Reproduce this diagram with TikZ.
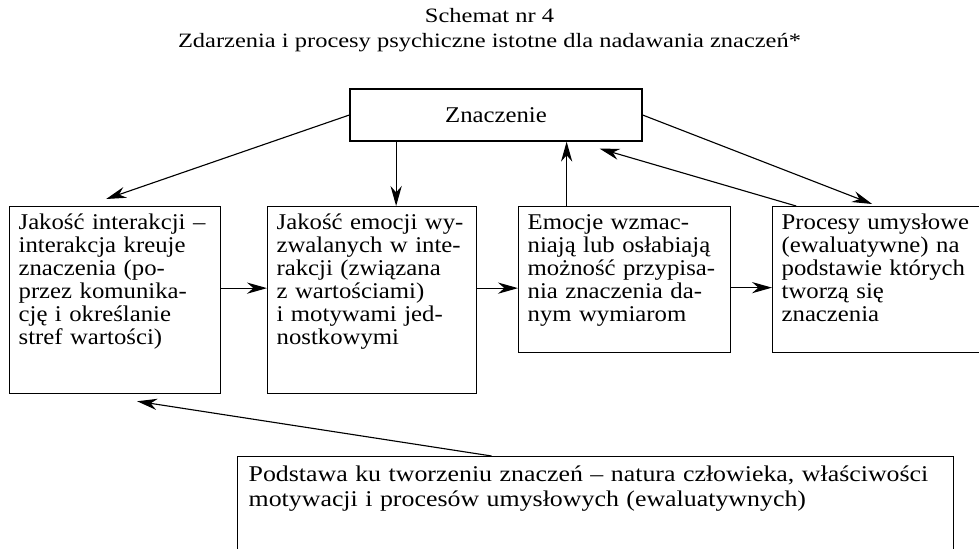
\documentclass[tikz,border=0pt]{standalone}
\usepackage{fontspec}
\setmainfont{Liberation Serif}[FakeStretch=1.10]
\newfontfamily\tytfont{Liberation Serif}[FakeStretch=1.2]
\newfontfamily\podfont{Liberation Serif}[FakeStretch=1.15]
\usetikzlibrary{arrows.meta}
\newdimen\px \px=0.025cm
\tikzset{
	tekst/.style={font=\fontsize{16pt}{16.4pt}\selectfont},
	tytul/.style={anchor=base, inner sep=0pt, font=\tytfont\fontsize{14.5pt}{18pt}\selectfont},
	ramka/.style={tekst, draw, line width=0.9pt, anchor=north west, inner xsep=9\px, inner ysep=0pt, align=left, text height=23\px},
	strz/.style={line width=0.8pt, -{Stealth[length=5mm,width=2.8mm,inset=1.6mm]}}
}

\begin{document}
\begin{tikzpicture}[x=0.025cm, y=-0.025cm]
		%%%%% START %%%%%
		\useasboundingbox (0, 0) rectangle (979, 548);
		
		\node[tytul] (tyt) at (489.5, 22) {Schemat nr 4};
		\node[tytul] (podtyt) at (489.5, 47) {Zdarzenia i procesy psychiczne istotne dla nadawania znaczeń*};
		
		\node[tekst, draw, line width=0.9pt, minimum width=292\px, minimum height=52\px] (znacz) at (496, 115) {Znaczenie};
		
		\node[ramka, text width=193\px, text depth=164\px] (jak) at (9, 206) {Jakość interakcji –\\interakcja kreuje\\znaczenia (po-\\przez komunika-\\cję i określanie\\stref wartości)};
		\node[ramka, text width=191\px, text depth=164\px] (emo) at (267, 206) {Jakość emocji wy-\\zwalanych w inte-\\rakcji (związana\\z wartościami)\\i motywami jed-\\nostkowymi};
		\node[ramka, text width=194\px, text depth=123\px] (wzm) at (518, 206) {Emocje wzmac-\\niają lub osłabiają\\możność przypisa-\\nia znaczenia da-\\nym wymiarom};
		\node[ramka, text width=189\px, text depth=123\px] (proc) at (772, 206) {Procesy umysłowe\\(ewaluatywne) na\\podstawie których\\tworzą się\\znaczenia};
		
		\node[ramka, font=\podfont\fontsize{16pt}{17.8pt}\selectfont, inner xsep=11\px, text width=694\px, text height=25\px, text depth=72\px] (pod) at (237, 456) {Podstawa ku tworzeniu znaczeń – natura człowieka, właściwości\\motywacji i procesów umysłowych (ewaluatywnych)};
		
		\draw[strz] (znacz.west) -- ([xshift=-9\px, yshift=7\px]jak.north);
		\draw[strz] ([xshift=24\px]emo.north |- znacz.south) -- ([xshift=24\px]emo.north);
		\draw[strz] ([xshift=-58\px]wzm.north) -- ([xshift=-58\px]wzm.north |- znacz.south);
		\draw[strz] ([xshift=-80\px]proc.north) -- ([xshift=-43\px, yshift=-7\px]znacz.south east);
		\draw[strz] (znacz.east) -- ([xshift=-4\px, yshift=2\px]proc.north);
		
		\draw[strz] ([yshift=12\px]jak.east) -- ([yshift=12\px]jak.east -| emo.west);
		\draw[strz] ([yshift=12\px]emo.east) -- ([yshift=12\px]emo.east -| wzm.west);
		\draw[strz] ([yshift=-8\px]wzm.east) -- ([yshift=-8\px]wzm.east -| proc.west);
		
		\draw[strz] ([xshift=-104\px]pod.north) -- ([xshift=22\px, yshift=-7\px]jak.south);
		%%%%% END %%%%%
\end{tikzpicture}
\end{document}
